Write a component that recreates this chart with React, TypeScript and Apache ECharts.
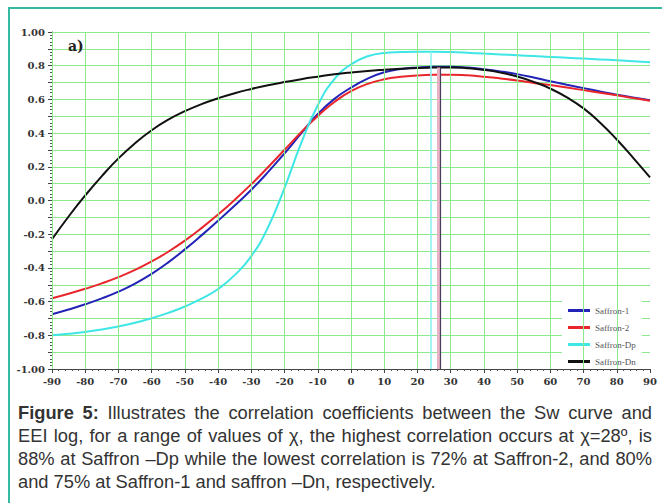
import React, { useEffect, useRef } from "react";
import * as echarts from "echarts";

const angles = [-90, -85, -80, -75, -70, -65, -60, -55, -50, -45, -40, -35, -30, -25, -20, -15, -10, -5, 0, 5, 10, 15, 20, 25, 30, 35, 40, 45, 50, 55, 60, 65, 70, 75, 80, 85, 90];

const saffron1 = [-0.675, -0.647, -0.616, -0.581, -0.541, -0.493, -0.435, -0.367, -0.29, -0.207, -0.12, -0.03, 0.064, 0.168, 0.28, 0.398, 0.513, 0.603, 0.67, 0.723, 0.761, 0.781, 0.79, 0.794, 0.794, 0.789, 0.779, 0.766, 0.75, 0.73, 0.708, 0.687, 0.667, 0.647, 0.628, 0.611, 0.595];
const saffron2 = [-0.58, -0.553, -0.524, -0.492, -0.455, -0.412, -0.362, -0.304, -0.238, -0.164, -0.083, 0.004, 0.097, 0.197, 0.301, 0.405, 0.502, 0.585, 0.649, 0.692, 0.719, 0.734, 0.742, 0.746, 0.747, 0.743, 0.735, 0.724, 0.712, 0.698, 0.685, 0.67, 0.655, 0.64, 0.625, 0.608, 0.592];
const saffronDp = [-0.8, -0.791, -0.78, -0.766, -0.748, -0.726, -0.699, -0.667, -0.629, -0.583, -0.525, -0.443, -0.33, -0.16, 0.075, 0.34, 0.565, 0.72, 0.808, 0.856, 0.876, 0.881, 0.883, 0.883, 0.881, 0.877, 0.872, 0.867, 0.862, 0.857, 0.852, 0.847, 0.842, 0.837, 0.832, 0.826, 0.82];
const saffronDn = [-0.23, -0.095, 0.03, 0.145, 0.25, 0.34, 0.417, 0.48, 0.53, 0.572, 0.607, 0.637, 0.662, 0.684, 0.703, 0.72, 0.735, 0.749, 0.76, 0.769, 0.776, 0.782, 0.787, 0.789, 0.79, 0.785, 0.775, 0.759, 0.736, 0.704, 0.664, 0.612, 0.547, 0.462, 0.362, 0.252, 0.137];

const seriesNames = ["Saffron-1", "Saffron-2", "Saffron-Dp", "Saffron-Dn"];
const seriesColors = ["#2323b8", "#e8262c", "#3fe6e6", "#111111"];

// vertical marker lines: [angle, top value]
const markDp = [24, 0.883];
const markPeakBand = [26.2, 0.79];
const markPeakLine = [26.9, 0.79];

const captionLines = [
  "Illustrates the correlation coefficients between the Sw curve and",
  "EEI log, for a range of values of \u03c7, the highest correlation occurs at \u03c7=28\u00ba, is",
  "88% at Saffron \u2013Dp while the lowest correlation is 72% at Saffron-2, and 80%",
  "and 75% at Saffron-1 and saffron \u2013Dn, respectively.",
];

const gridGreen = "#8ee88e";
const axisFont = "DejaVu Serif";

function yLabel(v: number): string {
  if (Math.abs(v - 1) < 1e-6) return "1.00";
  if (Math.abs(v + 1) < 1e-6) return "-1.00";
  const k = Math.round(v * 10);
  if (k % 2 !== 0) return "";
  if (k === 0) return "0.0";
  return (k / 10).toFixed(1);
}

function Chart() {
  const ref = useRef<HTMLDivElement>(null);
  useEffect(() => {
    if (!ref.current) return;
    const chart = echarts.init(ref.current, null, { renderer: "svg" });
    const allData = [saffron1, saffron2, saffronDp, saffronDn];
    const series: any[] = allData.map((arr, i) => ({
      name: seriesNames[i],
      type: "line",
      data: angles.map((a, j) => [a, arr[j]]),
      smooth: true,
      showSymbol: false,
      symbol: "none",
      lineStyle: { color: seriesColors[i], width: 2 },
      itemStyle: { color: seriesColors[i] },
      z: 3,
    }));
    series[1].markLine = {
      silent: true,
      symbol: ["none", "none"],
      label: { show: false },
      animation: false,
      data: [
        [
          { coord: [markDp[0], -1], lineStyle: { color: "#8ff0f0", width: 1.6, type: "solid" } },
          { coord: [markDp[0], markDp[1]] },
        ],
        [
          { coord: [markPeakBand[0], -1], lineStyle: { color: "#e9b3c4", width: 3, type: "solid" } },
          { coord: [markPeakBand[0], markPeakBand[1]] },
        ],
        [
          { coord: [markPeakLine[0], -1], lineStyle: { color: "#4a3d5c", width: 1.2, type: "solid" } },
          { coord: [markPeakLine[0], markPeakLine[1]] },
        ],
      ],
    };
    chart.setOption({
      animation: false,
      backgroundColor: "transparent",
      grid: { left: 52, top: 32, width: 598, height: 337, containLabel: false },
      xAxis: {
        type: "value",
        min: -90,
        max: 90,
        interval: 10,
        axisLine: { show: true, onZero: false, lineStyle: { color: "#444", width: 1 } },
        axisTick: { show: true, length: 4, lineStyle: { color: "#444" } },
        minorTick: { show: true, splitNumber: 5, length: 2, lineStyle: { color: "#555" } },
        axisLabel: { margin: 7, fontFamily: axisFont, fontWeight: "bold", fontSize: 10, color: "#333" },
        splitLine: { show: true, showMaxLine: false, lineStyle: { color: gridGreen, width: 1 } },
        z: 5,
      },
      yAxis: {
        type: "value",
        min: -1,
        max: 1,
        interval: 0.1,
        axisLine: { show: true, onZero: false, lineStyle: { color: "#444", width: 1 } },
        axisTick: { show: true, length: 4, lineStyle: { color: "#444" } },
        minorTick: { show: true, splitNumber: 5, length: 2, lineStyle: { color: "#555" } },
        axisLabel: {
          margin: 7,
          fontFamily: axisFont,
          fontWeight: "bold",
          fontSize: 10,
          color: "#333",
          formatter: yLabel,
          showMinLabel: true,
          showMaxLabel: true,
        },
        splitLine: { show: true, lineStyle: { color: gridGreen, width: 1 } },
      },
      legend: {
        data: seriesNames,
        orient: "vertical",
        left: 562,
        top: 299,
        icon: "rect",
        itemWidth: 22,
        itemHeight: 3,
        itemGap: 8,
        padding: [7, 6, 2, 6],
        backgroundColor: "#ffffff",
        textStyle: { fontFamily: "Liberation Serif", fontSize: 9, color: "#555" },
        selectedMode: false,
        z: 4,
      },
      graphic: [
        {
          type: "text",
          left: 68,
          top: 39,
          z: 10,
          style: { text: "a)", font: 'bold 14px "DejaVu Serif"', fill: "#222" },
        },
      ],
      series,
    });
    return () => chart.dispose();
  }, []);
  return <div ref={ref} style={{ position: "absolute", left: 0, top: 0, width: 662, height: 395 }} />;
}

export default function App() {
  const frame = "#36b9a3";
  return (
    <div style={{ position: "absolute", left: 0, top: 0, width: 662, height: 503, overflow: "hidden", background: "#fff" }}>
      <div style={{ position: "absolute", left: 8, top: 7, width: 2, height: 496, background: frame }} />
      <div style={{ position: "absolute", left: 8, top: 7, width: 654, height: 2, background: frame }} />
      <Chart />
      <div
        style={{
          position: "absolute",
          left: 18,
          top: 401,
          width: 634,
          fontFamily: '"Liberation Sans", Arial, sans-serif',
          fontSize: "18.3px",
          lineHeight: "23px",
          color: "#333",
        }}
      >
        {captionLines.map((ln, i) => (
          <div key={i} style={{ textAlign: i < 3 ? "justify" : "left", textAlignLast: i < 3 ? "justify" : "left" } as any}>
            {i === 0 ? <b>Figure 5: </b> : null}
            {ln}
          </div>
        ))}
      </div>
    </div>
  );
}
